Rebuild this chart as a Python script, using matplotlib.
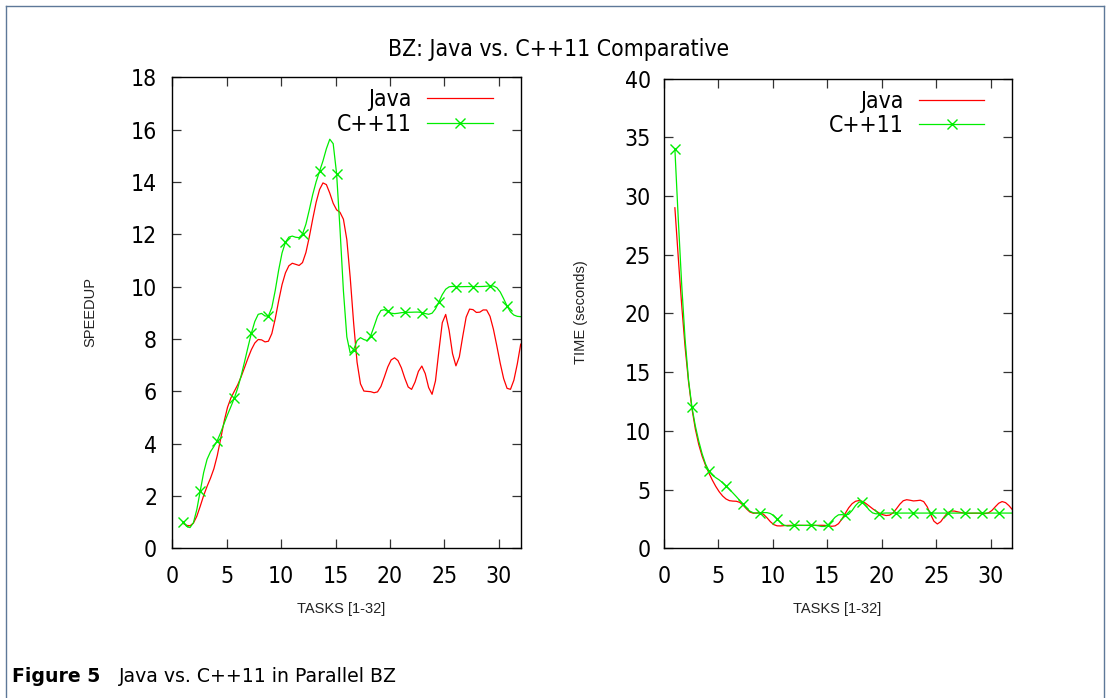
import numpy as np
import matplotlib
matplotlib.use("Agg")
import matplotlib.pyplot as plt
from matplotlib.lines import Line2D
from matplotlib import font_manager as fm

# ---------------- data ----------------
tasks = list(range(1, 33))

java_speedup = [0.95, 1.0, 2.16, 3.31, 5.28, 6.24, 7.32, 7.99, 8.03, 9.93,
                10.89, 10.95, 12.8, 13.97, 12.98, 11.9, 7.0, 6.0, 6.05, 7.13,
                6.94, 6.08, 6.94, 6.0, 8.95, 6.99, 8.85, 9.0, 9.04, 7.32,
                6.05, 7.8]
cpp_speedup = [1.0, 1.05, 3.12, 4.01, 5.03, 6.11, 7.77, 8.98, 9.0, 11.14,
               11.93, 12.04, 13.69, 15.03, 14.77, 8.2, 7.96, 7.96, 9.0, 9.0,
               9.0, 9.02, 9.0, 9.04, 9.84, 10.0, 10.0, 10.0, 10.02, 9.87,
               9.07, 8.85]

java_time = [29.0, 16.5, 9.6, 6.67, 4.91, 4.06, 3.89, 3.03, 2.98, 2.07,
             1.93, 1.95, 1.95, 1.95, 1.93, 2.07, 3.49, 4.06, 3.49, 2.9,
             2.98, 4.06, 4.03, 3.83, 2.1, 2.98, 3.1, 2.98, 2.98, 3.12,
             3.97, 3.3]
cpp_time = [34.0, 17.0, 9.9, 6.8, 5.87, 5.03, 4.03, 3.1, 3.03, 2.84,
            1.99, 1.95, 1.95, 1.95, 1.95, 2.84, 2.92, 3.97, 3.12, 2.98,
            3.0, 3.0, 3.0, 3.0, 3.0, 3.0, 3.0, 3.0, 3.0, 3.0,
            3.0, 3.0]

series_labels = ["Java", "C++11"]
title = "BZ: Java vs. C++11 Comparative"
xlabel = "TASKS [1-32]"
ylabel_left = "SPEEDUP"
ylabel_right = "TIME (seconds)"
caption_bold = "Figure 5"
caption_rest = "Java vs. C++11 in Parallel BZ"


# natural cubic spline (like gnuplot "smooth csplines")
def csplines(x, y, samples=100):
    x = np.asarray(x, float)
    y = np.asarray(y, float)
    n = len(x)
    h = np.diff(x)
    A = np.zeros((n, n))
    r = np.zeros(n)
    A[0, 0] = 1.0
    A[-1, -1] = 1.0
    for i in range(1, n - 1):
        A[i, i - 1] = h[i - 1]
        A[i, i] = 2 * (h[i - 1] + h[i])
        A[i, i + 1] = h[i]
        r[i] = 6 * ((y[i + 1] - y[i]) / h[i] - (y[i] - y[i - 1]) / h[i - 1])
    M = np.linalg.solve(A, r)
    xs = np.linspace(x[0], x[-1], samples)
    idx = np.clip(np.searchsorted(x, xs) - 1, 0, n - 2)
    x0, x1 = x[idx], x[idx + 1]
    y0, y1 = y[idx], y[idx + 1]
    m0, m1 = M[idx], M[idx + 1]
    hh = x1 - x0
    a = (x1 - xs) / hh
    b = (xs - x0) / hh
    ys = a * y0 + b * y1 + ((a ** 3 - a) * m0 + (b ** 3 - b) * m1) * hh ** 2 / 6
    return xs, ys


# fonts
tick_family = "DejaVu Sans"
tick_stretch = "normal"
try:
    p = fm.findfont(fm.FontProperties(family="DejaVu Sans", stretch="condensed"),
                    fallback_to_default=False)
    if "ondensed" in p:
        tick_stretch = "condensed"
except Exception:
    pass
tick_size = 16.5 if tick_stretch == "condensed" else 15.5

W, H = 1107, 698
fig = plt.figure(figsize=(W / 100, H / 100), dpi=100)
fig.patch.set_facecolor("white")

RED = "#ff0000"
GREEN = "#00ee00"


def px_ax(left, right, top, bottom):
    return [left / W, 1 - bottom / H, (right - left) / W, (bottom - top) / H]


def style_axes(ax, xlim, ylim, xticks, yticks, ypad):
    ax.set_xlim(*xlim)
    ax.set_ylim(*ylim)
    ax.set_xticks(xticks)
    ax.set_yticks(yticks)
    ax.tick_params(axis="both", which="major", direction="in", length=6.5,
                   width=0.9, top=True, right=True, color="#333333")
    ax.tick_params(axis="x", pad=12)
    ax.tick_params(axis="y", pad=ypad)
    for lab in ax.get_xticklabels() + ax.get_yticklabels():
        lab.set_fontfamily(tick_family)
        lab.set_fontstretch(tick_stretch)
        lab.set_fontsize(tick_size)
    for s in ax.spines.values():
        s.set_linewidth(1.0)
        s.set_color("black")


def draw(ax, ya, yb):
    xs, ys = csplines(tasks, ya)
    ax.plot(xs, ys, color=RED, lw=0.9, label=series_labels[0])
    xs, ys = csplines(tasks, yb)
    ax.plot(xs, ys, color=GREEN, lw=0.9, marker="x", markevery=5,
            markersize=7, markeredgewidth=1.0, label=series_labels[1])
    leg = ax.legend(loc="upper right", markerfirst=False, frameon=False,
                    prop=fm.FontProperties(family=tick_family, stretch=tick_stretch,
                                           size=tick_size),
                    handlelength=2.85, handletextpad=0.68, labelspacing=0.07,
                    borderpad=0, borderaxespad=0,
                    bbox_to_anchor=(0.9196, 0.9765))
    return leg


ax1 = fig.add_axes(px_ax(172.3, 520.7, 77.2, 548.3))
draw(ax1, java_speedup, cpp_speedup)
style_axes(ax1, (0, 32), (0, 18), range(0, 31, 5), range(0, 19, 2), 11)

ax2 = fig.add_axes(px_ax(664.0, 1012.3, 78.6, 548.3))
draw(ax2, java_time, cpp_time)
style_axes(ax2, (0, 32), (0, 40), range(0, 31, 5), range(0, 41, 5), 9.5)

# axis labels
lab_font = dict(family="Liberation Sans", size=10.5, color="#222222")
fig.text(341 / W, 1 - 609 / H, xlabel, ha="center", va="center", **lab_font)
fig.text(837 / W, 1 - 609 / H, xlabel, ha="center", va="center", **lab_font)
fig.text(90 / W, 1 - 312 / H, ylabel_left, ha="center", va="center",
         rotation=90, **lab_font)
fig.text(581 / W, 1 - 312 / H, ylabel_right, ha="center", va="center",
         rotation=90, **lab_font)

# title
fig.text(558.5 / W, 1 - 56 / H, title, ha="center", va="baseline",
         family=tick_family, stretch=tick_stretch, size=tick_size)

# caption
fig.text(12 / W, 1 - 676 / H, caption_bold, ha="left", va="center",
         family="DejaVu Sans", weight="bold", size=13.6)
fig.text(119 / W, 1 - 676 / H, caption_rest, ha="left", va="center",
         family="DejaVu Sans", size=13.6)

# outer frame (open at bottom)
fc = "#5d7898"
fx0, fx1, fy0 = 5.5 / W, 1103.5 / W, 1 - 5.5 / H
for xd, yd in (([fx0, fx0], [0, fy0]), ([fx0, fx1], [fy0, fy0]), ([fx1, fx1], [fy0, 0])):
    fig.add_artist(Line2D(xd, yd, transform=fig.transFigure, color=fc, lw=1.0))

fig.savefig("out.png", dpi=100, facecolor="white")
